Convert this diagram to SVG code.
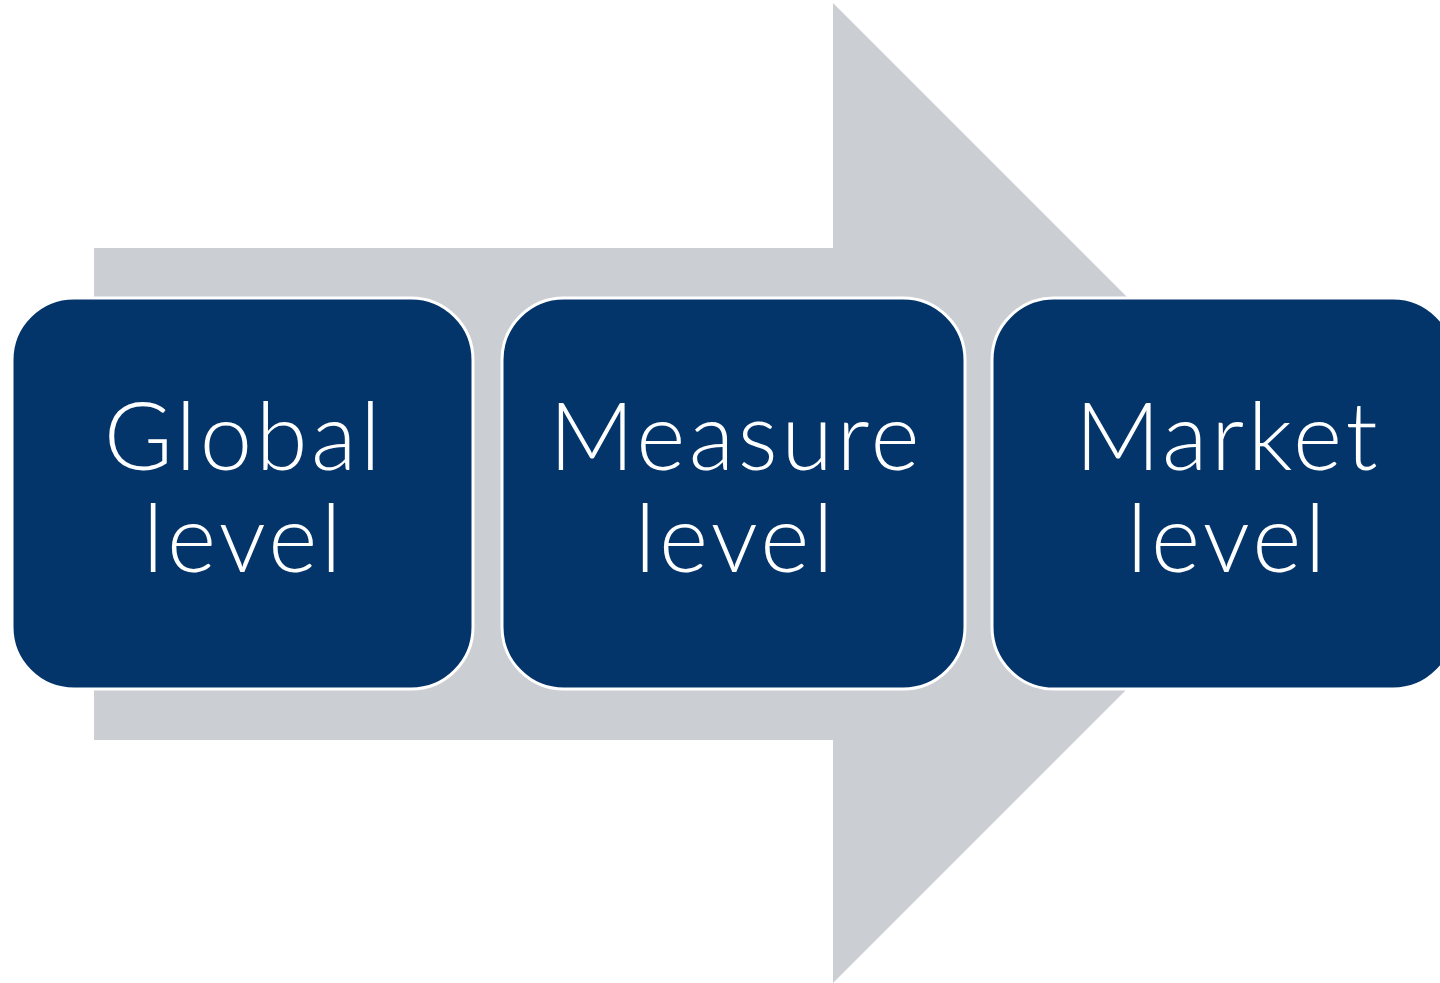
<svg xmlns="http://www.w3.org/2000/svg" width="1440" height="983" viewBox="0 0 1440 983">
  <style>
    .step rect { fill: #03356A; stroke: #FFFFFF; stroke-width: 3; }
    .step text { fill: #FFFFFF; font-family: Lato, "Noto Sans", sans-serif; font-weight: 300; font-size: 94px; letter-spacing: 3.5px; text-anchor: middle; }
  </style>
  <rect width="1440" height="983" fill="#FFFFFF"/>
  <!-- background process arrow -->
  <g id="connectors">
    <polygon points="94,248 833,248 833,3 1323,493 833,983 833,740 94,740" fill="#CBCED3"/>
  </g>
  <g id="global" class="step">
    <rect x="12" y="298" width="461" height="391" rx="62" ry="62"/>
    <text x="244" y="470">Global</text>
    <text x="244" y="572">level</text>
  </g>
  <g id="measure" class="step">
    <rect x="502" y="298" width="463" height="391" rx="62" ry="62"/>
    <text x="736" y="470">Measure</text>
    <text x="736" y="572">level</text>
  </g>
  <g id="market" class="step">
    <rect x="992" y="298" width="463" height="391" rx="62" ry="62"/>
    <text x="1228" y="470">Market</text>
    <text x="1228" y="572">level</text>
  </g>
</svg>
